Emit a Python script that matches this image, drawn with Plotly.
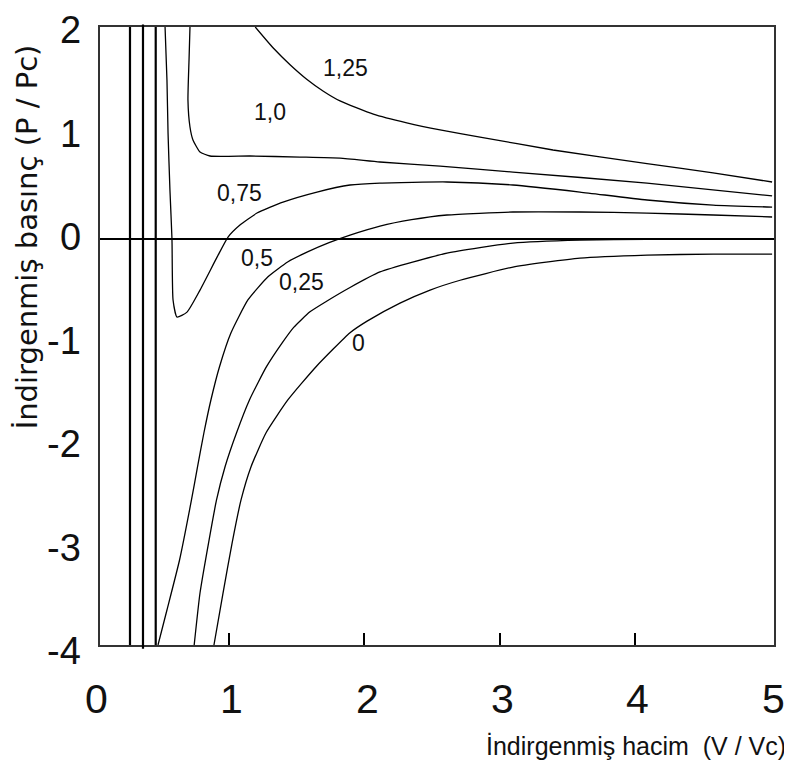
import plotly.graph_objects as go

# ---------------- data ----------------
x_range = [0.0495, 5.027]
y_range = [-3.918, 2.051]

v_t125 = [1.196, 1.329, 1.453, 1.576, 1.699, 1.822, 2.068, 2.315, 2.561, 2.856, 3.395, 4.089, 4.577, 5.013]
p_t125 = [2.051, 1.848, 1.687, 1.547, 1.431, 1.337, 1.209, 1.125, 1.057, 0.988, 0.863, 0.732, 0.641, 0.554]

v_t100 = [0.714, 0.707, 0.699, 0.714, 0.736, 0.788, 0.862, 1.157, 1.526, 1.822, 2.117, 2.561, 3.099, 4.089, 5.013]
p_t100 = [2.051, 1.733, 1.346, 1.085, 0.960, 0.844, 0.805, 0.805, 0.795, 0.785, 0.747, 0.708, 0.650, 0.544, 0.419]

v_t075 = [0.530, 0.544, 0.552, 0.566, 0.581, 0.589, 0.618, 0.692, 0.788, 0.914, 0.995, 1.083, 1.209, 1.401,
          1.652, 1.896, 2.117, 2.612, 3.099, 3.594, 4.089, 4.577, 5.013]
p_t075 = [2.051, 1.539, 1.027, 0.476, 0.003, -0.586, -0.751, -0.703, -0.490, -0.172, 0.022, 0.138, 0.254, 0.360,
          0.457, 0.525, 0.544, 0.554, 0.525, 0.457, 0.380, 0.331, 0.312]

v_t050 = [0.478, 0.544, 0.637, 0.725, 0.770, 0.817, 0.869, 0.932, 1.017, 1.143, 1.290, 1.438, 1.586, 1.741,
          1.896, 2.117, 2.350, 2.612, 3.099, 3.594, 4.089, 4.577, 5.013]
p_t050 = [-3.918, -3.580, -3.097, -2.517, -2.196, -1.868, -1.549, -1.230, -0.902, -0.583, -0.361, -0.216, -0.119,
          -0.032, 0.041, 0.128, 0.190, 0.235, 0.264, 0.264, 0.254, 0.235, 0.216]

v_t025 = [0.745, 0.788, 0.851, 0.910, 0.973, 1.058, 1.154, 1.279, 1.400, 1.480, 1.600, 1.720, 1.896, 2.117,
          2.612, 3.099, 3.594, 4.089, 5.013]
p_t025 = [-3.918, -3.416, -2.933, -2.517, -2.196, -1.868, -1.549, -1.230, -0.990, -0.850, -0.700, -0.600, -0.465,
          -0.315, -0.133, -0.036, -0.007, 0.0, 0.0]

v_t000 = [0.891, 0.958, 1.025, 1.091, 1.165, 1.276, 1.438, 1.645, 1.896, 2.022, 2.265, 2.487, 2.709, 3.099,
          3.594, 4.089, 4.577, 5.013]
p_t000 = [-3.918, -3.416, -2.933, -2.517, -2.196, -1.868, -1.549, -1.230, -0.902, -0.790, -0.616, -0.490, -0.395,
          -0.268, -0.181, -0.152, -0.142, -0.142]

curve_v = [v_t125, v_t100, v_t075, v_t050, v_t025, v_t000]
curve_p = [p_t125, p_t100, p_t075, p_t050, p_t025, p_t000]
curve_names = ["1,25", "1,0", "0,75", "0,5", "0,25", "0"]
label_v = [1.861, 1.305, 1.076, 1.209, 1.541, 1.955]
label_p = [1.653, 1.230, 0.447, -0.181, -0.413, -1.002]

asymptotes = [0.271, 0.367, 0.461]
x_ticks = [0, 1, 2, 3, 4, 5]
y_ticks = [2, 1, 0, -1, -2, -3, -4]

x_title = "İndirgenmiş hacim  (V / Vc)"
y_title = "İndirgenmiş basınç (P / Pc)"

# ---------------- figure ----------------
SANS = "Liberation Sans, Arial, sans-serif"

fig = go.Figure()
for v, p, name in zip(curve_v, curve_p, curve_names):
    fig.add_trace(go.Scatter(x=v, y=p, mode="lines", name=name,
                             line=dict(color="black", width=1.3, shape="spline", smoothing=0.5),
                             showlegend=False, hoverinfo="skip"))

shapes = []
for i, a in enumerate(asymptotes):
    y0, y1 = (-0.006, 1.004) if i == 1 else (0, 1)
    shapes.append(dict(type="line", xref="x", yref="paper", x0=a, x1=a, y0=y0, y1=y1,
                       line=dict(color="black", width=2.2)))

annotations = []
for name, lv, lp in zip(curve_names, label_v, label_p):
    annotations.append(dict(x=lv, y=lp, xref="x", yref="y", text=name, showarrow=False,
                            font=dict(family=SANS, size=23, color="#111")))

xspan = x_range[1] - x_range[0]
yspan = y_range[1] - y_range[0]
for t in x_ticks:
    annotations.append(dict(x=(t - x_range[0]) / xspan, y=-0.0874, xref="paper", yref="paper",
                            text=str(t), showarrow=False, xanchor="center", yanchor="middle", xshift=3,
                            font=dict(family=SANS, size=41, color="#111")))
for t in y_ticks:
    annotations.append(dict(x=-0.0252, y=(t - y_range[0]) / yspan, xref="paper", yref="paper",
                            text=str(t), showarrow=False, xanchor="right", yanchor="middle", yshift=2,
                            font=dict(family=SANS, size=38, color="#111")))

annotations.append(dict(x=1.0208, y=-0.163, xref="paper", yref="paper", text=x_title, showarrow=False,
                        xanchor="right", yanchor="middle",
                        font=dict(family=SANS, size=25, color="#111")))
annotations.append(dict(x=-0.108, y=0.660, xref="paper", yref="paper", text=y_title, showarrow=False,
                        textangle=-90, xanchor="center", yanchor="middle",
                        font=dict(family="DejaVu Sans, sans-serif", size=29, color="#111")))

fig.update_layout(
    width=784, height=768, autosize=False,
    margin=dict(l=92, r=18, t=19, b=131),
    paper_bgcolor="white", plot_bgcolor="white",
    xaxis=dict(range=x_range, showgrid=False, zeroline=False, showline=True, mirror=True,
               linecolor="#333", linewidth=1.5, tickvals=[1, 2, 3, 4], ticks="inside", ticklen=12,
               tickwidth=2, tickcolor="black", showticklabels=False),
    yaxis=dict(range=y_range, showgrid=False, zeroline=True, zerolinecolor="black", zerolinewidth=2.3,
               showline=True, mirror=True, linecolor="#333", linewidth=1.5, ticks="",
               showticklabels=False),
    shapes=shapes, annotations=annotations,
)

fig.write_html("out.html")
